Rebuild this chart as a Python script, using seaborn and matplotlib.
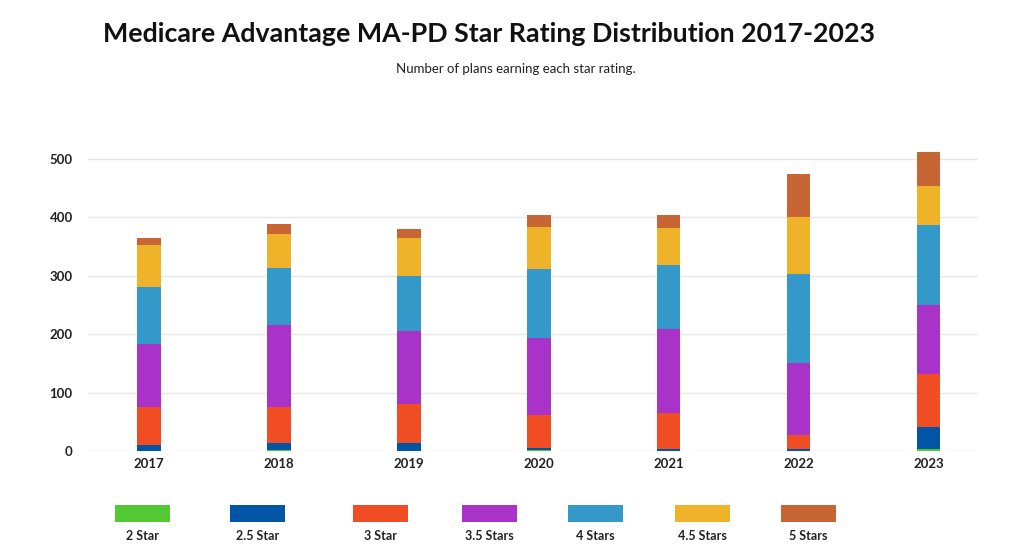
import numpy as np
import pandas as pd
import matplotlib
matplotlib.use("Agg")
import matplotlib.pyplot as plt
from matplotlib.patches import Rectangle
import seaborn as sns

years = ["2017", "2018", "2019", "2020", "2021", "2022", "2023"]
star_2 = [0, 2, 0, 2, 0, 0, 4]
star_2_5 = [10, 12, 14, 3, 4, 3, 38]
star_3 = [65, 61, 67, 56, 62, 24, 90]
star_3_5 = [109, 141, 125, 132, 142, 124, 117]
star_4 = [97, 97, 94, 119, 111, 152, 137]
star_4_5 = [71, 59, 65, 72, 63, 97, 67]
star_5 = [13, 16, 14, 20, 21, 74, 58]

series_names = ["2 Star", "2.5 Star", "3 Star", "3.5 Stars", "4 Stars", "4.5 Stars", "5 Stars"]
series_values = [star_2, star_2_5, star_3, star_3_5, star_4, star_4_5, star_5]
colors = ["#52C934", "#0055A4", "#F14D25", "#A933C8", "#3498C9", "#EFB329", "#C76535"]
y_ticks = [0, 100, 200, 300, 400, 500]

sns.set_theme(style="white")
plt.rcParams["font.family"] = ["Lato", "DejaVu Sans"]

fig = plt.figure(figsize=(10.24, 5.59), dpi=100)
ax = fig.add_axes([0.086, 0.193, 0.869, 0.544])

bottom = np.zeros(len(years))
for name, vals, col in zip(series_names, series_values, colors):
    df = pd.DataFrame({"year": years, "count": vals})
    sns.barplot(data=df, x="year", y="count", color=col, bottom=bottom,
                width=0.18, ax=ax, saturation=1, linewidth=0, errorbar=None)
    bottom = bottom + np.array(vals)

ax.set_ylim(0, 520)
ax.set_xlim(-0.47, 6.38)
ax.set_yticks(y_ticks)
ax.set_yticklabels([str(t) for t in y_ticks], fontsize=9.5, fontweight="bold", color="#222222")
ax.tick_params(axis="x", labelsize=9.5, pad=5, length=0)
ax.tick_params(axis="y", pad=11, length=0)
for lab in ax.get_xticklabels():
    lab.set_fontweight("bold")
    lab.set_color("#222222")
ax.yaxis.grid(True, color="#E6E6E6", linewidth=1)
ax.set_axisbelow(True)
for s in ax.spines.values():
    s.set_visible(False)
ax.set_xlabel("")
ax.set_ylabel("")

fig.text(0.478, 0.94, "Medicare Advantage MA-PD Star Rating Distribution 2017-2023",
         ha="center", va="center", fontsize=19.3, fontweight="bold", color="#111111")
fig.text(0.504, 0.877, "Number of plans earning each star rating.",
         ha="center", va="center", fontsize=9.5, color="#222222")

# legend: swatches with labels below
leg_x = [115, 230, 353, 462, 568, 675, 781]
for x0, name, col in zip(leg_x, series_names, colors):
    fig.add_artist(Rectangle((x0 / 1024, (559 - 522) / 559), 55 / 1024, 17 / 559,
                             transform=fig.transFigure, color=col, linewidth=0))
    fig.text((x0 + 27.5) / 1024, (559 - 536) / 559, name, ha="center", va="center",
             fontsize=9, fontweight="bold", color="#222222")

fig.savefig("out.png", dpi=100)
